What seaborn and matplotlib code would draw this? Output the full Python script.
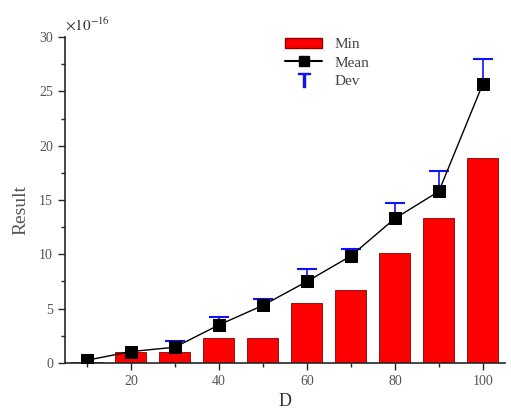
import numpy as np
import pandas as pd
import matplotlib
matplotlib.use("Agg")
import matplotlib.pyplot as plt
import seaborn as sns
from matplotlib.lines import Line2D
from matplotlib.patches import Patch
from matplotlib.ticker import MultipleLocator

D = [10, 20, 30, 40, 50, 60, 70, 80, 90, 100]
min_vals = [0.05, 1.05, 1.05, 2.3, 2.3, 5.55, 6.7, 10.1, 13.3, 18.9]
mean_vals = [0.25, 1.05, 1.45, 3.5, 5.3, 7.5, 9.85, 13.3, 15.8, 25.7]
dev_vals = [0.0, 0.0, 0.6, 0.7, 0.6, 1.15, 0.65, 1.45, 1.85, 2.3]

df = pd.DataFrame({"D": D, "Min": min_vals, "Mean": mean_vals, "Dev": dev_vals})
dev_df = df[df["Dev"] > 0]

sns.set_style("ticks")
plt.rcParams["font.family"] = ["Liberation Serif", "DejaVu Serif"]
plt.rcParams["mathtext.fontset"] = "stix"

fig = plt.figure(figsize=(5.11, 4.12), dpi=100)
ax = fig.add_axes([0.127, 0.119, 0.861, 0.791])

sns.barplot(data=df, x="D", y="Min", native_scale=True, width=0.7,
            color="#ff0000", saturation=1, edgecolor="#8b0000", linewidth=0.6,
            ax=ax, zorder=2)

eb = ax.errorbar(dev_df["D"], dev_df["Mean"],
                 yerr=[np.zeros(len(dev_df)), dev_df["Dev"]],
                 fmt="none", ecolor="#1010ff", elinewidth=1.2, capsize=7.5,
                 capthick=1.5, zorder=3)
# only the upper caps are shown (plus-direction deviation)
eb[1][0].set_visible(False)

sns.lineplot(data=df, x="D", y="Mean", color="black", linewidth=1.0,
             marker="s", markersize=8, markerfacecolor="black",
             markeredgecolor="black", ax=ax, zorder=4)

ax.set_xlim(5, 105)
ax.set_ylim(0, 30)
ax.xaxis.set_major_locator(MultipleLocator(20))
ax.xaxis.set_minor_locator(MultipleLocator(10))
ax.yaxis.set_major_locator(MultipleLocator(5))
ax.yaxis.set_minor_locator(MultipleLocator(2.5))
ax.tick_params(axis="both", which="major", direction="out", length=5, width=1,
               labelsize=10, labelcolor="#555555")
ax.tick_params(axis="both", which="minor", direction="out", length=3, width=1)
for s in ["top", "right"]:
    ax.spines[s].set_visible(False)
for s in ["left", "bottom"]:
    ax.spines[s].set_linewidth(1.2)

ax.set_xlabel("D", fontsize=13, color="#333333")
ax.set_ylabel("Result", fontsize=14, color="#555555")
ax.yaxis.set_label_coords(-0.08, 0.47)
ax.text(0.0, 1.01, r"$\times10^{-16}$", transform=ax.transAxes,
        fontsize=11, color="#333333", ha="left", va="bottom")

handles = [
    Patch(facecolor="#ff0000", edgecolor="#8b0000", label="Min"),
    Line2D([], [], color="black", marker="s", markersize=7, label="Mean"),
    Line2D([], [], color="#1010ff", marker=r"$\top$", markersize=10,
           linestyle="none", label="Dev"),
]
ax.legend(handles=handles, loc="upper left", bbox_to_anchor=(0.47, 1.04),
          frameon=False, fontsize=11, handlelength=2.4, labelspacing=0.3,
          labelcolor="#444444")

fig.savefig("out.png", dpi=100)
